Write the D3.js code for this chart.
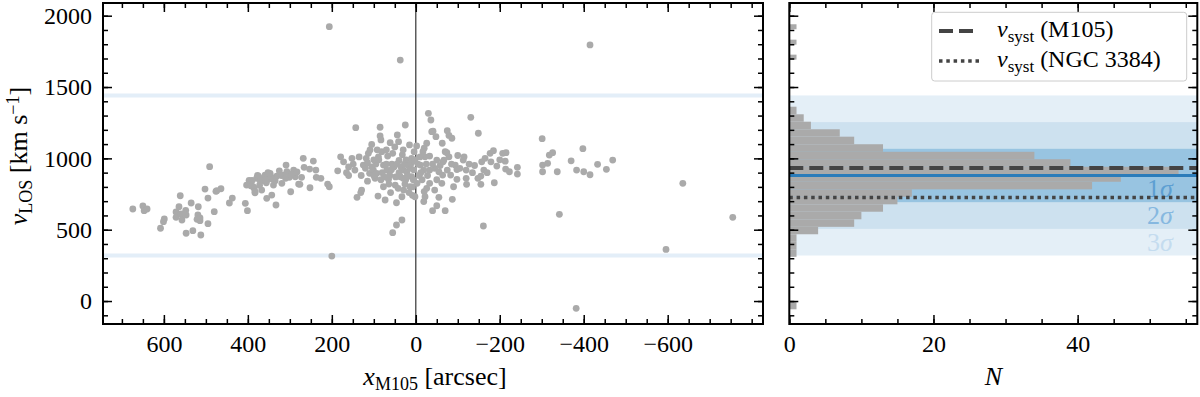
<!DOCTYPE html>
<html>
<head>
<meta charset="utf-8">
<script src="https://cdn.jsdelivr.net/npm/d3@7"></script>
<style>
  body { margin: 0; background: #fff; }
  svg { display: block; }
</style>
</head>
<body>
<svg id="chart" width="1200" height="397"></svg>
<script>
// ---- data ----
// [x_M105 (arcsec), v_LOS (km/s)]
const scatterPts = [
  [674,645],[650,666],[647,633],[640,645],[608,510],[601,556],[599,575],[561,738],[571,624],[571,587],
  [564,661],[559,610],[557,568],[548,636],[547,603],[547,475],[535,687],[531,493],[518,661],[519,603],
  [521,573],[514,563],[514,582],[512,463],[502,785],[495,722],[495,542],[491,942],[480,626],[476,769],
  [464,787],[474,773],
  [444,687],[437,722],[406,685],[401,633],[403,813],[397,846],[393,808],[385,790],[383,759],[377,881],
  [394,825],[387,801],[383,766],[379,860],[375,876],[367,853],[367,778],[359,883],[356,829],[355,720],
  [351,853],[347,895],[343,743],[339,813],[335,843],[333,673],[331,876],[370,840],[362,865],[390,845],
  [372,812],[345,870],[358,850],[340,855],[352,900],
  [325,913],[319,825],[315,883],[309,953],[307,906],[301,867],[298,766],[291,918],[287,871],[279,820],
  [276,818],[272,867],[268,1000],[266,937],[253,925],[252,794],[244,981],[238,918],[237,867],[226,860],
  [210,820],[206,801],[206,1923],[200,315],[320,880],[310,860],[295,890],[283,905],
  [186,913],[179,1011],[172,976],[152,1000],[149,960],[145,918],[143,1215],[140,727],[131,760],[129,778],
  [125,953],[115,970],[113,1035],[110,895],[109,1059],[105,1098],[101,918],[97,860],[93,895],[90,736],
  [89,1011],[85,1218],[85,1157],[83,1129],[81,1047],[83,850],[77,953],[77,801],[73,708],[69,918],
  [67,1016],[65,853],[61,1110],[57,960],[55,1035],[55,479],[49,813],[46,533],[46,689],[44,1164],
  [41,1117],[40,985],[37,871],[37,1689],[33,568],[33,731],[32,1025],[30,918],[29,778],[25,1234],
  [24,850],[23,990],[21,906],[15,1094],[14,801],[13,932],[10,1000],[10,871],[8,741],[6,850],
  [120,930],[105,940],[100,880],[95,960],[88,990],[80,900],[75,870],[70,960],[62,880],[58,920],
  [52,940],[48,870],[45,960],[40,900],[35,940],[30,860],[27,960],[20,880],[18,950],[12,960],
  [5,920],[3,980],[8,800],[16,760],[26,820],[42,790],[60,760],[64,820],[100,990],[118,1000],
  [92,1060],[70,1060],[50,1080],[30,1060],[135,1010],[160,940],[165,900],[130,880],[115,840],[160,880],
  [-30,1316],[-36,1269],[-131,1288],[-38,1187],[-41,1190],[-48,1152],[-75,1194],[-79,1161],[-86,1141],[-149,1176],
  [-63,1106],[-26,1106],[-20,1071],[-17,1047],[-2,1087],[4,1047],[-70,1047],[-74,1040],[-22,1011],[-33,1016],
  [-50,988],[-65,976],[-67,988],[-79,1011],[-113,988],[-115,1011],[-94,953],[-127,960],[-157,976],[-165,1000],
  [-177,1035],[-185,1054],[-179,976],[-193,946],[-207,1035],[-215,1040],[-213,980],[-214,925],[-223,906],[-242,937],
  [-242,890],[2,990],[-11,953],[-19,918],[-33,918],[-45,930],[-55,906],[-64,883],[-75,918],[-83,883],
  [-98,922],[-120,918],[-148,860],[-155,876],[-162,918],[-120,860],[-98,853],[-90,801],[-62,825],[-33,825],
  [-26,790],[-3,825],[-20,767],[-45,778],[-121,818],[-155,818],[-187,829],[2,731],[-22,731],[-55,727],
  [-87,713],[-19,697],[-50,668],[-40,633],[-70,633],[-161,526],
  [-5,960],[-8,880],[-12,900],[-15,850],[-25,960],[-28,880],[-40,960],[-50,850],[-10,1010],[-58,950],
  [-85,960],[-105,930],[-140,950],[-135,900],[-100,1020],[-170,900],[-200,990],
  [-301,1138],[-398,1068],[-318,1023],[-326,1040],[-302,953],[-314,965],[-302,906],[-337,906],[-370,983],[-383,918],
  [-400,906],[-415,885],[-433,958],[-454,923],[-469,988],[-636,825],[-415,1795],[-342,608],[-596,362],[-755,587],
  [-382,-51]
];

// histogram of v_LOS (main bins, top edge first)
const histEdges = [1362,1309,1257,1204,1152,1099,1046,994,941,889,836,783,731,678,626,573,520,468,415,363,310];
const histCounts = [1,2,3,7,9,13,34,39,54,46,42,17,15,13,10,9,4,1,1,1];
// single outliers drawn as their own bars
const outlierLo = [1905,1797,1692,-58];
const outlierHi = [1940,1832,1727,-5];

const vMean = 880, vSigma = 187;
const vSystM105 = 932, vSystN3384 = 725;

const xMajor = [600,400,200,0,-200,-400,-600];
const vMajor = [0,500,1000,1500,2000];
const nMajor = [0,20,40];

const bandColors = ["#e4eff7", "#cde1ef", "#98c4e1"];   // 3σ, 2σ, 1σ
const bandTextColors = ["#5d9fd2", "#86b8e0", "#c4dcef"]; // 1σ, 2σ, 3σ

// ---- layout ----
const FONT = "'Liberation Serif', 'DejaVu Serif', serif";
const svg = d3.select("#chart");
const plotTop = 3, plotBottom = 324;
const L = { left: 103, right: 763 };
const R = { left: 789.3, right: 1197.3 };

const x = d3.scaleLinear().domain([745, -827]).range([L.left, L.right]);
const y = d3.scaleLinear().domain([-161, 2089]).range([plotBottom, plotTop]);
const n = d3.scaleLinear().domain([0, 56.6]).range([R.left, R.right]);

svg.append("clipPath").attr("id", "clipL")
  .append("rect").attr("x", L.left).attr("y", plotTop).attr("width", L.right - L.left).attr("height", plotBottom - plotTop);
svg.append("clipPath").attr("id", "clipR")
  .append("rect").attr("x", R.left).attr("y", plotTop).attr("width", R.right - R.left).attr("height", plotBottom - plotTop);

// ---- left panel ----
const gl = svg.append("g").attr("clip-path", "url(#clipL)");

[vMean + 3 * vSigma, vMean - 3 * vSigma].forEach(v => {
  gl.append("line")
    .attr("x1", L.left).attr("x2", L.right)
    .attr("y1", y(v)).attr("y2", y(v))
    .attr("stroke", "#e3eef8").attr("stroke-width", 4);
});

gl.append("line")
  .attr("x1", x(0)).attr("x2", x(0)).attr("y1", plotTop).attr("y2", plotBottom)
  .attr("stroke", "#444").attr("stroke-width", 1.3);

gl.selectAll("circle")
  .data(scatterPts)
  .enter()
  .append("circle")
  .attr("cx", d => x(d[0]))
  .attr("cy", d => y(d[1]))
  .attr("r", 3.4)
  .attr("fill", "#aaaaaa");

// ---- right panel ----
const gr = svg.append("g").attr("clip-path", "url(#clipR)");

// sigma bands, widest first
[3, 2, 1].forEach((k, i) => {
  gr.append("rect")
    .attr("x", R.left).attr("width", R.right - R.left)
    .attr("y", y(vMean + k * vSigma))
    .attr("height", y(vMean - k * vSigma) - y(vMean + k * vSigma))
    .attr("fill", bandColors[i]);
});

gr.selectAll("rect.bin")
  .data(histCounts)
  .enter()
  .append("rect")
  .attr("class", "bin")
  .attr("x", n(0))
  .attr("width", d => n(d) - n(0))
  .attr("y", (d, i) => y(histEdges[i]))
  .attr("height", (d, i) => y(histEdges[i + 1]) - y(histEdges[i]))
  .attr("fill", "#aaaaaa");

gr.selectAll("rect.outlier")
  .data(outlierLo)
  .enter()
  .append("rect")
  .attr("class", "outlier")
  .attr("x", n(0))
  .attr("width", n(1) - n(0))
  .attr("y", (d, i) => y(outlierHi[i]))
  .attr("height", (d, i) => y(d) - y(outlierHi[i]))
  .attr("fill", "#aaaaaa");

// sigma labels
[1, 2, 3].forEach((k, i) => {
  gr.append("text")
    .attr("x", n(53.2)).attr("y", y(vMean - k * vSigma) - 5)
    .attr("text-anchor", "end")
    .attr("font-family", FONT).attr("font-size", 26)
    .attr("fill", bandTextColors[i])
    .text(k)
    .append("tspan").attr("font-style", "italic").text("σ");
});

gr.append("line")
  .attr("x1", R.left).attr("x2", R.right)
  .attr("y1", y(vSystM105)).attr("y2", y(vSystM105))
  .attr("stroke", "#444").attr("stroke-width", 4).attr("stroke-dasharray", "14,6");
gr.append("line")
  .attr("x1", R.left).attr("x2", R.right)
  .attr("y1", y(vSystN3384)).attr("y2", y(vSystN3384))
  .attr("stroke", "#444").attr("stroke-width", 3.5).attr("stroke-dasharray", "3.5,3.8");
gr.append("line")
  .attr("x1", R.left).attr("x2", R.right)
  .attr("y1", y(vMean)).attr("y2", y(vMean))
  .attr("stroke", "#2b7cba").attr("stroke-width", 3);

// ---- axes: inward ticks on all four sides ----
function addAxis(axisFn, scale, vals, size, fmt, tx, ty) {
  const a = svg.append("g")
    .attr("transform", `translate(${tx},${ty})`)
    .call(axisFn(scale).tickValues(vals).tickSize(-size).tickPadding(11)
      .tickFormat(fmt || (() => "")));
  a.select(".domain").remove();
  a.selectAll("line").attr("stroke", "#000").attr("stroke-width", 1.5);
  a.selectAll("text").attr("font-family", FONT).attr("font-size", 24).attr("fill", "#000");
}

const fmt = d3.format("d");
const xMinor = d3.range(-800, 750, 50);
const vMinor = d3.range(-100, 2100, 100);
const nMinor = d3.range(0, 57, 5);

// left panel
addAxis(d3.axisBottom, x, xMinor, 5, null, 0, plotBottom);
addAxis(d3.axisBottom, x, xMajor, 9, fmt, 0, plotBottom);
addAxis(d3.axisTop, x, xMinor, 5, null, 0, plotTop);
addAxis(d3.axisTop, x, xMajor, 9, null, 0, plotTop);
addAxis(d3.axisLeft, y, vMinor, 5, null, L.left, 0);
addAxis(d3.axisLeft, y, vMajor, 9, fmt, L.left, 0);
addAxis(d3.axisRight, y, vMinor, 5, null, L.right, 0);
addAxis(d3.axisRight, y, vMajor, 9, null, L.right, 0);

// right panel
addAxis(d3.axisBottom, n, nMinor, 5, null, 0, plotBottom);
addAxis(d3.axisBottom, n, nMajor, 9, fmt, 0, plotBottom);
addAxis(d3.axisTop, n, nMinor, 5, null, 0, plotTop);
addAxis(d3.axisTop, n, nMajor, 9, null, 0, plotTop);
addAxis(d3.axisLeft, y, vMinor, 5, null, R.left, 0);
addAxis(d3.axisLeft, y, vMajor, 9, null, R.left, 0);
addAxis(d3.axisRight, y, vMinor, 5, null, R.right, 0);
addAxis(d3.axisRight, y, vMajor, 9, null, R.right, 0);

[L, R].forEach(p => {
  svg.append("rect")
    .attr("x", p.left).attr("y", plotTop)
    .attr("width", p.right - p.left).attr("height", plotBottom - plotTop)
    .attr("fill", "none").attr("stroke", "#000").attr("stroke-width", 2);
});

// ---- axis labels ----
const xl = svg.append("text")
  .attr("x", (L.left + L.right) / 2 + 2).attr("y", 385)
  .attr("text-anchor", "middle")
  .attr("font-family", FONT).attr("font-size", 26);
xl.append("tspan").attr("font-style", "italic").text("x");
xl.append("tspan").attr("font-size", 18).attr("dy", 5).text("M105");
xl.append("tspan").attr("dy", -5).text(" [arcsec]");

svg.append("text")
  .attr("x", (R.left + R.right) / 2).attr("y", 385)
  .attr("text-anchor", "middle")
  .attr("font-family", FONT).attr("font-size", 26).attr("font-style", "italic")
  .text("N");

const yl = svg.append("text")
  .attr("transform", "translate(27,156) rotate(-90)")
  .attr("text-anchor", "middle")
  .attr("font-family", FONT).attr("font-size", 26);
yl.append("tspan").attr("font-style", "italic").text("v");
yl.append("tspan").attr("font-size", 18).attr("dy", 5).text("LOS");
yl.append("tspan").attr("dy", -5).text(" [km s");
yl.append("tspan").attr("font-size", 18).attr("dy", -8).text("−1");
yl.append("tspan").attr("dy", 8).text("]");

// ---- legend ----
const lg = svg.append("g");
lg.append("rect")
  .attr("x", 931.7).attr("y", 12.3).attr("width", 255).attr("height", 68.7)
  .attr("rx", 3).attr("fill", "#fff").attr("fill-opacity", 0.85)
  .attr("stroke", "#cccccc").attr("stroke-width", 1);

const legendItems = [
  { name: "(M105)", dash: "14,6", width: 4, cy: 31 },
  { name: "(NGC 3384)", dash: "3.5,3.8", width: 3.5, cy: 61 }
];
legendItems.forEach(it => {
  lg.append("line")
    .attr("x1", 939).attr("x2", 979).attr("y1", it.cy).attr("y2", it.cy)
    .attr("stroke", "#444").attr("stroke-width", it.width).attr("stroke-dasharray", it.dash);
  const t = lg.append("text")
    .attr("x", 997).attr("y", it.cy + 6)
    .attr("font-family", FONT).attr("font-size", 24);
  t.append("tspan").attr("font-style", "italic").text("v");
  t.append("tspan").attr("font-size", 17).attr("dy", 5).text("syst");
  t.append("tspan").attr("dy", -5).text(" " + it.name);
});
</script>
</body>
</html>
